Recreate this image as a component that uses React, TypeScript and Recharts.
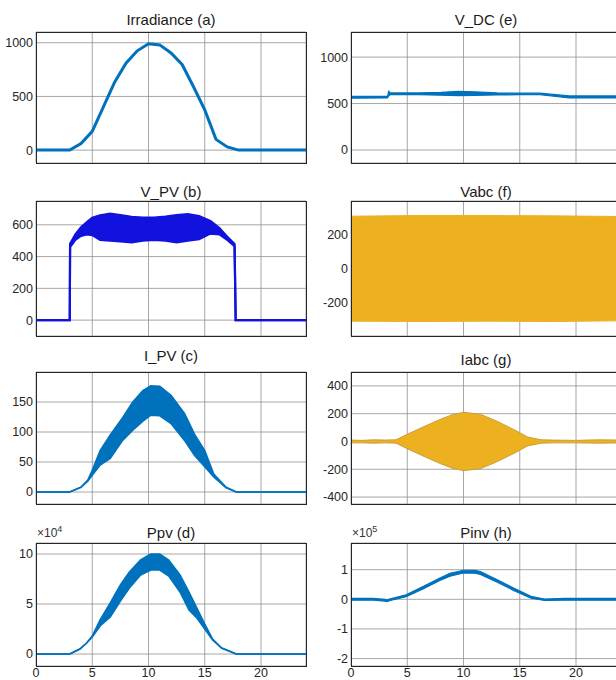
import React from 'react'
import { ComposedChart, Area, Line, XAxis, YAxis, CartesianGrid } from 'recharts'

const FONT = '"Liberation Sans", Arial, Helvetica, sans-serif'
const BLUE = '#0072BD'
const PV_BLUE = '#1212DE'
const YELLOW = '#EDB120'
const GRID = '#8f8f8f'
const BOX = '#262626'

const xTicks = [0, 5, 10, 15, 20]

// (a) irradiance, W/m2
const irrT = [0, 3, 4, 5, 6, 7, 8, 9, 10, 11, 12, 13, 14, 15, 16, 17, 18, 24]
const irrV = [0, 0, 62, 175, 405, 635, 810, 925, 990, 980, 905, 795, 590, 375, 100, 30, 0, 0]

// (b) V_PV envelope
const vpvT = [0, 3.0, 3.03, 3.5, 4.0, 4.5, 5.0, 5.7, 6.6, 7.5, 8.5, 9.5, 10.5, 11.5, 12.5, 13.5, 14.5, 15.5, 16.3, 17.0, 17.65, 17.75, 24]
const vpvLo = [0, 0, 460, 505, 530, 540, 535, 505, 500, 495, 490, 500, 505, 500, 490, 500, 510, 545, 540, 505, 465, 0, 0]
const vpvHi = [0, 0, 480, 540, 585, 615, 645, 660, 670, 662, 650, 645, 645, 652, 662, 667, 655, 625, 580, 525, 480, 0, 0]

// (c) I_PV envelope
const ipvT = [0, 3.0, 4.0, 4.6, 5.0, 5.7, 6.6, 7.7, 8.6, 9.5, 10.2, 11.0, 12.0, 13.2, 14.1, 15.0, 15.8, 16.9, 17.8, 24]
const ipvLo = [0, 0, 8, 18, 28, 45, 56, 86, 103, 118, 128, 127, 114, 86, 61, 42, 25, 7, 0, 0]
const ipvHi = [0, 0, 8, 20, 36, 69, 95, 124, 150, 169, 177, 176, 161, 131, 96, 69, 30, 8, 0, 0]

// (d) Ppv envelope, x10^4
const ppvT = [0, 3.0, 3.9, 4.5, 5.0, 5.7, 6.6, 7.5, 8.3, 9.3, 10.2, 11.0, 11.8, 12.8, 13.6, 14.3, 15.0, 15.7, 16.5, 17.8, 24]
const ppvLo = [0, 0, 0.5, 1.1, 1.7, 2.8, 3.7, 5.3, 6.6, 7.9, 8.4, 8.4, 7.8, 6.2, 4.4, 3.6, 2.5, 1.4, 0.6, 0, 0]
const ppvHi = [0, 0, 0.5, 1.1, 1.8, 3.4, 5.1, 6.9, 8.2, 9.4, 10.0, 10.0, 9.4, 7.9, 6.2, 4.6, 3.0, 1.5, 0.6, 0, 0]

// (e) V_DC envelope
const vdcT = [0, 0.02, 3.25, 3.35, 3.5, 6, 8, 9.5, 11, 13, 15, 16.8, 19.4, 24]
const vdcLo = [0, 558, 560, 585, 595, 595, 590, 585, 588, 592, 595, 595, 560, 560]
const vdcHi = [0, 578, 578, 632, 614, 614, 620, 632, 626, 614, 612, 612, 582, 582]

// (f) Vabc envelope
const vabcT = [0, 6, 12, 18, 24]
const vabcLo = [-312, -314, -312, -314, -310]
const vabcHi = [310, 314, 314, 312, 308]

// (g) Iabc envelope
const iabcT = [0, 0.03, 1, 2, 3, 4.0, 4.9, 6.4, 7.9, 9.0, 10.0, 11.5, 13.0, 14.5, 15.7, 16.9, 18, 20, 22, 24]
const iabcLo = [-370, -10, -10, -12, -10, -12, -48, -104, -158, -192, -210, -196, -145, -85, -32, -12, -10, -10, -12, -10]
const iabcHi = [450, 10, 8, 12, 10, 12, 48, 104, 158, 192, 210, 196, 145, 85, 32, 12, 10, 8, 12, 10]

// (h) Pinv envelope, x10^5
const pinvT = [0, 0.02, 1, 2, 3.0, 3.2, 3.5, 4.9, 6.4, 7.9, 8.8, 10, 11, 11.5, 13, 14.5, 16, 17.2, 19, 21, 24]
const pinvLo = [-1.9, -0.03, -0.03, -0.03, -0.06, -0.08, -0.04, 0.09, 0.35, 0.64, 0.78, 0.89, 0.88, 0.84, 0.58, 0.29, 0.04, -0.04, -0.03, -0.03, -0.03]
const pinvHi = [0.02, 0.03, 0.03, 0.03, 0.0, -0.02, 0.02, 0.15, 0.43, 0.72, 0.88, 0.98, 0.98, 0.94, 0.66, 0.37, 0.1, 0.01, 0.03, 0.03, 0.03]

const line = (t: number[], v: number[]) => t.map((x, i) => ({ t: x, v: v[i] }))
const band = (t: number[], lo: number[], hi: number[]) => t.map((x, i) => ({ t: x, v: [lo[i], hi[i]] }))

const noTick = () => <g />

type PanelProps = {
  title: string
  titleY: number
  left: number
  top: number
  height: number
  yDomain: [number, number]
  yTicks: number[]
  showX?: boolean
  exponent?: string
  data: any[]
  children: React.ReactNode
}

function Panel({ title, titleY, left, top, height, yDomain, yTicks, showX, exponent, data, children }: PanelProps) {
  const W = 270
  const yW = 40
  const xH = showX ? 16 : 0
  return (
    <>
      <div
        style={{
          position: 'absolute', left, top: titleY - 10, width: W, textAlign: 'center',
          fontSize: 15, lineHeight: '20px', fontFamily: FONT, color: '#1a1a1a',
        }}
      >
        {title}
      </div>
      {exponent && (
        <div style={{ position: 'absolute', left: left + 1, top: top - 21, fontSize: 12, lineHeight: '15px', fontFamily: FONT, color: '#333' }}>
          ×10<sup style={{ fontSize: 9 }}>{exponent}</sup>
        </div>
      )}
      <div style={{ position: 'absolute', left: left - yW, top: top - 8 }}>
        <ComposedChart width={yW + W + 2} height={height + xH + 16} margin={{ top: 8, right: 2, bottom: 8, left: 0 }} data={data}>
          <CartesianGrid stroke={GRID} strokeWidth={0.8} />
          <XAxis
            dataKey="t" type="number" domain={[0, 24]} ticks={xTicks} allowDataOverflow interval={0}
            height={xH} axisLine={false} tickLine={false} tickSize={0} tickMargin={2}
            tick={showX ? { fontSize: 12.5, fill: '#262626', fontFamily: FONT } : noTick}
          />
          <YAxis
            type="number" domain={yDomain} ticks={yTicks} allowDataOverflow width={yW} interval={0}
            axisLine={false} tickLine={false} tickSize={0} tickMargin={3}
            tick={{ fontSize: 12.5, fill: '#262626', fontFamily: FONT }}
          />
          {children}
        </ComposedChart>
      </div>
      <div
        style={{
          position: 'absolute', left: left - 0.5, top: top - 0.5, width: W + 1, height: height + 1,
          border: `1px solid ${BOX}`, boxSizing: 'border-box', pointerEvents: 'none',
        }}
      />
    </>
  )
}

export default function App() {
  return (
    <div style={{ position: 'fixed', left: 0, top: 0, width: 616, height: 680, overflow: 'hidden', background: '#fff' }}>
      <Panel title="Irradiance (a)" titleY={20} left={36} top={32} height={131} yDomain={[-120, 1100]} yTicks={[0, 500, 1000]} data={line(irrT, irrV)}>
        <Line dataKey="v" type="linear" stroke={BLUE} strokeWidth={3} dot={false} isAnimationActive={false} />
      </Panel>
      <Panel title="V_DC (e)" titleY={20} left={351} top={32} height={131} yDomain={[-140, 1270]} yTicks={[0, 500, 1000]} data={band(vdcT, vdcLo, vdcHi)}>
        <Area dataKey="v" type="linear" stroke={BLUE} strokeWidth={1.2} fill={BLUE} fillOpacity={1} isAnimationActive={false} />
      </Panel>

      <Panel title="V_PV (b)" titleY={192} left={36} top={201} height={135} yDomain={[-100, 750]} yTicks={[0, 200, 400, 600]} data={band(vpvT, vpvLo, vpvHi)}>
        <Area dataKey="v" type="linear" stroke={PV_BLUE} strokeWidth={2.2} fill={PV_BLUE} fillOpacity={1} isAnimationActive={false} />
      </Panel>
      <Panel title="Vabc (f)" titleY={192} left={351} top={201} height={135} yDomain={[-400, 400]} yTicks={[-200, 0, 200]} data={band(vabcT, vabcLo, vabcHi)}>
        <Area dataKey="v" type="linear" stroke={YELLOW} strokeWidth={1} fill={YELLOW} fillOpacity={1} isAnimationActive={false} />
      </Panel>

      <Panel title="I_PV (c)" titleY={356} left={36} top={372} height={132} yDomain={[-20, 200]} yTicks={[0, 50, 100, 150]} data={band(ipvT, ipvLo, ipvHi)}>
        <Area dataKey="v" type="linear" stroke={BLUE} strokeWidth={1.6} fill={BLUE} fillOpacity={1} isAnimationActive={false} />
      </Panel>
      <Panel title="Iabc (g)" titleY={360} left={351} top={372} height={132} yDomain={[-450, 500]} yTicks={[-400, -200, 0, 200, 400]} data={band(iabcT, iabcLo, iabcHi)}>
        <Area dataKey="v" type="linear" stroke="#c9a03a" strokeWidth={1} fill={YELLOW} fillOpacity={1} isAnimationActive={false} />
      </Panel>

      <Panel title="Ppv (d)" titleY={533} left={36} top={543} height={123} yDomain={[-1.2, 11.1]} yTicks={[0, 5, 10]} showX exponent="4" data={band(ppvT, ppvLo, ppvHi)}>
        <Area dataKey="v" type="linear" stroke={BLUE} strokeWidth={1.6} fill={BLUE} fillOpacity={1} isAnimationActive={false} />
      </Panel>
      <Panel title="Pinv (h)" titleY={533} left={351} top={543} height={123} yDomain={[-2.25, 1.9]} yTicks={[-2, -1, 0, 1]} showX exponent="5" data={band(pinvT, pinvLo, pinvHi)}>
        <Area dataKey="v" type="linear" stroke={BLUE} strokeWidth={1.2} fill={BLUE} fillOpacity={1} isAnimationActive={false} />
      </Panel>
    </div>
  )
}
